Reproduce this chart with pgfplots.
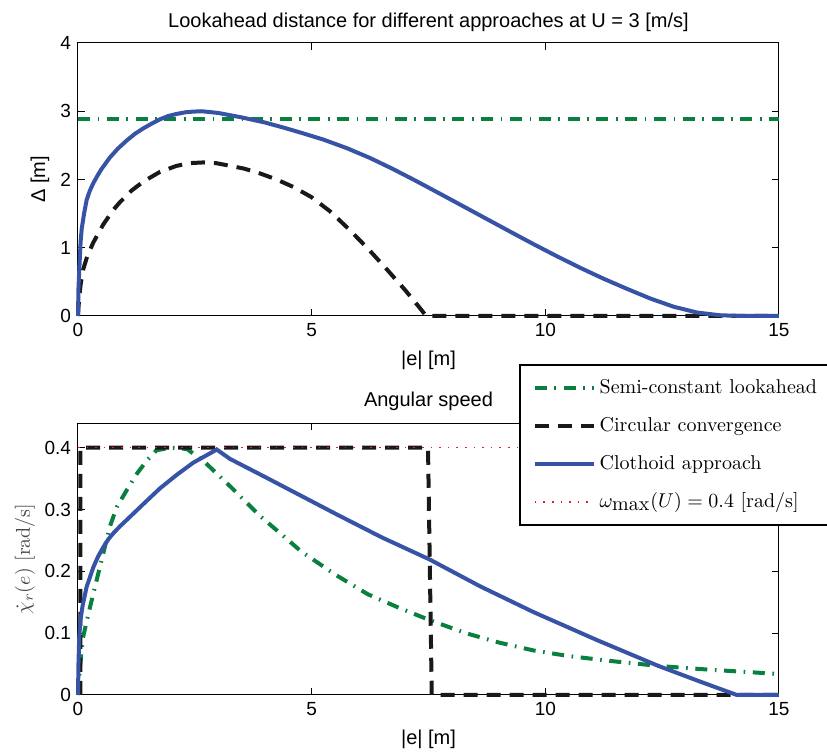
\documentclass[border=0pt]{standalone}
\usepackage{fontspec}
\newfontfamily\hel{Liberation Sans}
\usepackage{pgfplots}
\pgfplotsset{compat=1.18}

\definecolor{cblue}{HTML}{3653A5}
\definecolor{cgreen}{HTML}{0A8040}
\definecolor{cred}{HTML}{E62020}

\pgfplotsset{
  mstyle/.style={
    scale only axis, width=350.5pt, height=136.5pt,
    xmin=0, xmax=15, xtick={0,5,10,15},
    clip=false,
    tick align=inside, major tick length=3.5pt,
    axis line style={black, line width=0.5pt},
    every tick/.style={black, line width=0.5pt},
    /pgf/number format/assume math mode=true,
    tick label style={font=\hel\fontsize{9.5}{11}\selectfont},
    label style={font=\hel\fontsize{10}{12}\selectfont},
    every axis title shift=0pt,
    title style={font=\hel\fontsize{10}{12}\selectfont, anchor=center},
  },
  sconst/.style={cgreen, line width=2pt, dash pattern=on 6pt off 3.8pt on 0.8pt off 3.8pt},
  circ/.style={black!90, line width=2pt, dash pattern=on 7pt off 4.5pt},
  cloth/.style={cblue, line width=2pt},
  wmax/.style={cred, line width=0.7pt, dash pattern=on 0.8pt off 3.5pt},
}

\begin{document}
\begin{tikzpicture}

% top: lookahead distance
\begin{axis}[mstyle, at={(0pt,0pt)}, anchor=south west,
  ymin=0, ymax=4, ytick={0,1,2,3,4},
  title={Lookahead distance for different approaches at U = 3 [m/s]},
  title style={at={(axis description cs:0.5,1.077)}},
  xlabel={|e| [m]}, xlabel style={at={(axis description cs:0.5,-0.162)}, anchor=center},
  ylabel={Δ [m]}, ylabel style={at={(axis description cs:-0.0542,0.5)}, anchor=center},
]
\addplot[sconst] coordinates {(0,2.89) (15,2.89)};
\addplot[circ] coordinates {
  (0,0) (0.01,0.12) (0.03,0.3) (0.06,0.48) (0.11,0.68) (0.2,0.88) (0.33,1.08)
  (0.54,1.34) (0.75,1.55) (0.9,1.67) (1.15,1.84) (1.40,1.97) (1.75,2.11)
  (2.11,2.20) (2.4,2.24) (2.68,2.25) (2.95,2.24) (3.18,2.21) (3.55,2.16)
  (3.89,2.09) (4.25,2.00) (4.61,1.89) (5.0,1.74) (5.4,1.53) (5.8,1.27)
  (6.2,0.99) (6.6,0.69) (7.0,0.38) (7.3,0.13) (7.45,0) (15,0)};
\addplot[cloth] coordinates {
  (0,0) (0.01,0.4) (0.03,0.72) (0.057,1.1) (0.08,1.28) (0.13,1.5) (0.185,1.70)
  (0.25,1.83) (0.33,1.95) (0.42,2.06) (0.5,2.15) (0.68,2.32) (0.85,2.45)
  (1.04,2.57) (1.22,2.67) (1.40,2.75) (1.58,2.82) (1.75,2.88) (1.93,2.93)
  (2.11,2.96) (2.3,2.985) (2.47,2.995) (2.65,3.0) (3.0,2.975) (3.5,2.91)
  (4.0,2.835) (4.4,2.76) (4.75,2.69) (5.25,2.585) (5.75,2.46) (6.25,2.315)
  (6.75,2.15) (7.25,1.973) (7.75,1.79) (8.25,1.605) (8.75,1.42) (9.25,1.235)
  (9.75,1.052) (10.25,0.875) (10.75,0.705) (11.25,0.545) (11.75,0.397)
  (12.25,0.255) (12.75,0.135) (13.25,0.05) (13.75,0.01) (14.25,0) (15,0)};
\end{axis}

% bottom: angular speed
\begin{axis}[mstyle, at={(0pt,-189.5pt)}, anchor=south west,
  height=136pt,
  ymin=0, ymax=0.44, ytick={0,0.1,0.2,0.3,0.4},
  yticklabels={0,0.1,0.2,0.3,0.4},
  title={Angular speed},
  title style={at={(axis description cs:0.5,1.081)}},
  xlabel={|e| [m]}, xlabel style={at={(axis description cs:0.5,-0.162)}, anchor=center},
  ylabel={$\dot{\chi}_r(e)$ [rad/s]},
  ylabel style={at={(axis description cs:-0.0756,0.5)}, anchor=center,
    font=\rmfamily\fontsize{10}{12}\selectfont, color=black!72},
  legend style={at={(axis description cs:0.629,1.2156)}, anchor=north west,
    draw=black, line width=0.8pt, fill=white,
    font=\rmfamily\fontsize{10}{12}\selectfont,
    row sep=6.4pt, inner xsep=6.5pt, inner ysep=5pt, column sep=0pt},
  legend cell align=left,
  legend image code/.code={\draw[#1] (0pt,0pt) -- (29.5pt,0pt);},
]
\addplot[sconst] coordinates {
  (0,0) (0.043,0.046) (0.11,0.094) (0.26,0.143) (0.40,0.186) (0.54,0.229)
  (0.68,0.272) (0.83,0.304) (1.04,0.331) (1.26,0.358) (1.47,0.379) (1.68,0.396)
  (2.0,0.40) (2.33,0.398) (2.68,0.379) (3.25,0.338) (3.89,0.290) (4.78,0.232)
  (5.5,0.195) (6.2,0.163) (6.9,0.140) (7.53,0.121) (8.3,0.100) (9.0,0.085)
  (9.75,0.072) (10.5,0.063) (11.4,0.055) (12.42,0.047) (13.5,0.041) (15,0.034)};
\addlegendentry{\makebox[125pt][l]{Semi-constant lookahead}}
\addplot[circ] coordinates {(0.05,0) (0.05,0.4) (7.49,0.4) (7.57,0) (15,0)};
\addlegendentry{Circular convergence}
\addplot[cloth] coordinates {
  (0,0) (0.01,0.05) (0.025,0.09) (0.05,0.12) (0.1,0.145) (0.185,0.175)
  (0.33,0.207) (0.43,0.224) (0.54,0.239) (0.65,0.252) (0.76,0.262) (0.9,0.273)
  (1.04,0.283) (1.40,0.309) (1.75,0.334) (2.11,0.356) (2.47,0.376) (2.97,0.397)
  (3.25,0.382) (4.02,0.352) (4.78,0.322) (5.54,0.292) (6.5,0.255) (7.53,0.219)
  (8.6,0.176) (9.75,0.134) (11.1,0.089) (12.42,0.047) (13.3,0.022) (14.1,0) (15,0)};
\addlegendentry{Clothoid approach}
\addplot[wmax] coordinates {(0,0.4) (15,0.4)};
\addlegendentry{$\omega_{\mbox{max}}(U) = 0.4$ [rad/s]}
\end{axis}

\pgfresetboundingbox
\useasboundingbox (-39pt,158pt) rectangle (374.5pt,-219pt);
\end{tikzpicture}
\end{document}
